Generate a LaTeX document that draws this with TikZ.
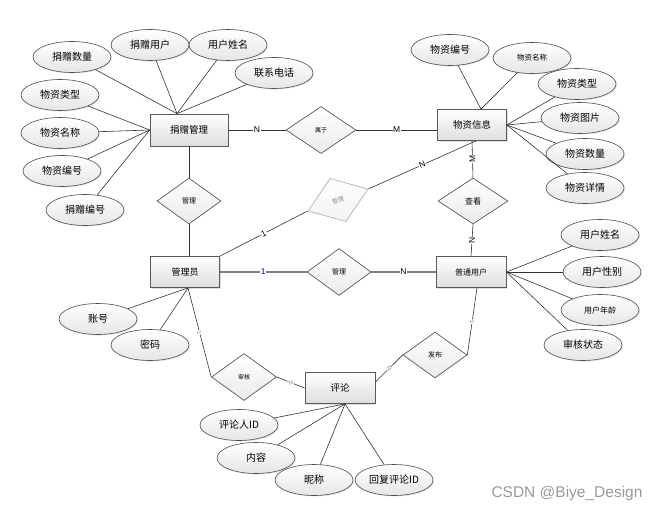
\documentclass[tikz,border=0pt]{standalone}
\usepackage{fontspec}
\setmainfont{Noto Sans CJK SC}
\newfontfamily\latinsf{Liberation Sans}
\usetikzlibrary{shapes.geometric,shadows,calc}
\begin{document}
\begin{tikzpicture}[x=1pt,y=-1pt,
  ent/.style={draw=black!65, line width=0.8pt, top color=white, bottom color=black!13,
    minimum width=70pt, minimum height=31pt, inner sep=0pt, font=\fontsize{9.5}{10}\selectfont,
    drop shadow={shadow xshift=1pt,shadow yshift=-1pt,opacity=0.25}},
  attr/.style={ellipse, draw=black!70, line width=0.6pt, top color=white, bottom color=black!10,
    minimum width=78pt, minimum height=31pt, inner sep=0pt, font=\fontsize{10}{10}\selectfont,
    drop shadow={shadow xshift=1pt,shadow yshift=-1pt,opacity=0.2}},
  rel/.style={diamond, draw=black!65, line width=0.7pt, top color=white, bottom color=black!8,
    minimum width=64pt, minimum height=46pt, inner sep=0pt, font=\fontsize{7}{7}\selectfont},
  ln/.style={draw=black!80, line width=0.6pt},
  card/.style={font=\latinsf\fontsize{8.5}{9}\selectfont, fill=white, inner sep=0.6pt},
  tinycard/.style={font=\latinsf\fontsize{6}{6}\selectfont, text=black!50, fill=white, inner sep=0.3pt}
]
\useasboundingbox (0,0) rectangle (658,511);

% entities
\node[ent, minimum width=78pt, minimum height=32pt] (jz) at (189,130) {捐赠管理};
\node[ent, minimum width=69pt] (wz) at (472,125) {物资信息};
\node[ent, minimum width=69pt, font=\fontsize{9}{9}\selectfont] (gly) at (185,272) {管理员};
\node[ent, font=\fontsize{8}{8}\selectfont] (pt) at (471,272) {普通用户};
\node[ent] (pl) at (340,388) {评论};

% relationships
\node[rel, minimum width=70pt, minimum height=47pt, font=\fontsize{6}{6}\selectfont] (sy) at (321,130) {属于};
\node[rel] (gl1) at (189,201) {管理};
\node[rel, draw=black!30, top color=white, bottom color=black!5, text=black!45, rotate=20,
      font=\fontsize{6}{6}\selectfont] (gs) at (338,200) {管理};
\node[rel, minimum width=70pt, font=\fontsize{8}{8}\selectfont] (ck) at (473,201) {查看};
\node[rel, minimum height=47pt] (gl2) at (339,272) {管理};
\node[rel, minimum width=65pt, minimum height=47pt, font=\fontsize{6}{6}\selectfont] (sh) at (244,377) {审核};
\node[rel] (fb) at (435,355) {发布};

% attributes of 捐赠管理
\node[attr] (a1) at (72,57) {捐赠数量};
\node[attr] (a2) at (150,45) {捐赠用户};
\node[attr] (a3) at (228,45) {用户姓名};
\node[attr] (a4) at (274,73) {联系电话};
\node[attr] (a5) at (60,95) {物资类型};
\node[attr] (a6) at (60,133) {物资名称};
\node[attr] (a7) at (62,171) {物资编号};
\node[attr] (a8) at (85,210) {捐赠编号};

% attributes of 物资信息
\node[attr] (b1) at (450,50) {物资编号};
\node[attr, font=\fontsize{7.5}{8}\selectfont] (b2) at (532,58) {物资名称};
\node[attr] (b3) at (577,84) {物资类型};
\node[attr] (b4) at (580,118) {物资图片};
\node[attr] (b5) at (585,154) {物资数量};
\node[attr] (b6) at (585,188) {物资详情};

% attributes of 管理员
\node[attr] (c1) at (98,319) {账号};
\node[attr] (c2) at (150,345) {密码};

% attributes of 普通用户
\node[attr] (d1) at (600,235) {用户姓名};
\node[attr] (d2) at (602,272) {用户性别};
\node[attr, font=\fontsize{8}{8}\selectfont] (d3) at (600,310) {用户年龄};
\node[attr] (d4) at (583,345) {审核状态};

% attributes of 评论
\node[attr] (e1) at (239,425) {评论人ID};
\node[attr] (e2) at (256,458) {内容};
\node[attr] (e3) at (314,480) {昵称};
\node[attr] (e4) at (394,480) {回复评论ID};

% anchor points
\coordinate (jzT) at ($(jz.north)+(-12,0)$);
\coordinate (wzT) at ($(wz.north)+(9,0)$);
\coordinate (glyB) at ($(gly.south)+(3,0)$);
\coordinate (plB) at ($(pl.south)+(5,0)$);
\coordinate (plR) at ($(pl.east)+(0,-6)$);
\coordinate (ptB) at ($(pt.south)+(6,0)$);
\coordinate (wzB) at ($(wz.south)+(4,0)$);
\coordinate (glyT) at (gl1.south |- gly.north);

% attribute lines
\foreach \a in {a1,a2,a3,a4} \draw[ln] (\a) -- (jzT);
\foreach \a in {a5,a6,a7,a8} \draw[ln] (\a) -- (jz.west);
\foreach \a in {b1,b2} \draw[ln] (\a) -- (wzT);
\foreach \a in {b3,b4,b5,b6} \draw[ln] (\a) -- (wz.east);
\foreach \a in {c1,c2} \draw[ln] (\a) -- (glyB);
\foreach \a in {d1,d2,d3,d4} \draw[ln] (\a) -- (pt.east);
\foreach \a in {e1,e2,e3,e4} \draw[ln] (\a) -- (plB);

% relationship lines
\draw[ln] (jz) -- node[card]{N} (sy);
\draw[ln] (sy.east) -- node[card]{M} (sy.east -| wz.west);
\draw[ln] (jz) -- (gl1);
\draw[ln] (gl1.south) -- (glyT);
\draw[ln] (gly.north east) -- node[card, rotate=27]{1} (gs.west);
\draw[ln] (gs.east) -- node[card, rotate=24]{N} (wzB);
\draw[ln] (wz.south) -- node[card, rotate=90]{M} (ck.north);
\draw[ln] (ck.south) -- node[card, rotate=90]{N} (pt.north);
\draw[draw=black!50, line width=1.3pt] (gly) -- node[card, text=blue!50!black]{1} (gl2);
\draw[draw=black!50, line width=1.3pt] (gl2) -- node[card]{N} (pt);
\draw[ln] (glyB) -- node[tinycard, rotate=-75]{1} (sh.west);
\draw[ln] (sh.east) -- node[tinycard, rotate=20]{N} (pl.west);
\draw[ln] (plR) -- node[tinycard, rotate=-45]{N} (fb.west);
\draw[ln] (fb.east) -- node[tinycard, rotate=-80]{1} (ptB);

% watermark
\node[font=\latinsf\fontsize{15.5}{16}\selectfont, text=black!40] (wm) at (567,493) {CSDN @Biye\_Design};
\end{tikzpicture}
\end{document}
